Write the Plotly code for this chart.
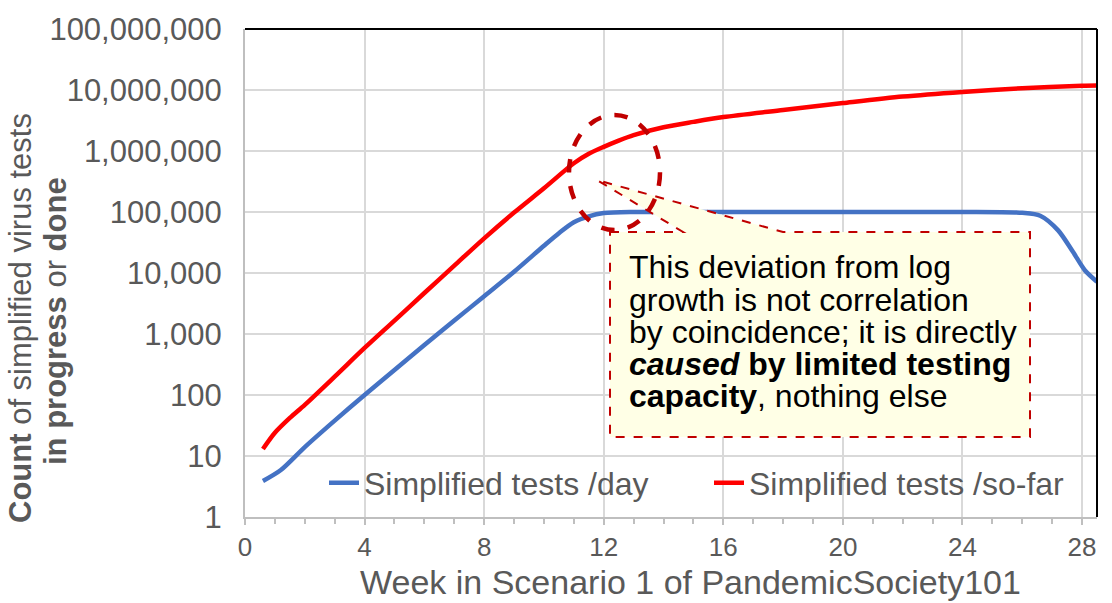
import plotly.graph_objects as go

# ---------------- data ----------------
weeks_day = [0.6, 1.2, 2.0, 3.0, 4.0, 5.0, 6.0, 7.0, 8.0, 9.0, 10.0, 10.5, 11.0, 11.5,
             12.0, 13.0, 14.0, 16.0, 18.0, 20.0, 22.0, 24.0, 26.0, 26.6, 27.2,
             27.7, 28.1, 28.5]
tests_day = [3.9, 5.9, 14, 38, 100, 257, 660, 1660, 4170, 10500, 28000, 45000, 68000, 85000,
             96000, 100000, 100000, 100000, 100000, 100000, 100000, 100000, 97000, 87000, 50000,
             22000, 11000, 7200]

weeks_sofar = [0.6, 1.0, 1.5, 2.0, 3.0, 4.0, 5.0, 6.0, 7.0, 8.0, 9.0, 10.0, 11.0, 11.5,
               12.0, 12.5, 13.0, 14.0, 15.0, 16.0, 18.0, 20.0, 22.0, 24.0, 26.0, 28.0, 28.5]
tests_sofar = [13, 24, 42, 69, 200, 590, 1660, 4700, 13200, 37000, 98000, 245000, 630000, 900000,
               1170000, 1480000, 1820000, 2450000, 3000000, 3600000, 4700000, 6100000, 7800000,
               9300000, 10700000, 11700000, 11800000]

y_tickvals = [1, 10, 100, 1000, 10000, 100000, 1000000, 10000000, 100000000]
y_ticktext = ["1", "10", "100", "1,000", "10,000", "100,000", "1,000,000", "10,000,000", "100,000,000"]
x_tickvals = [0, 4, 8, 12, 16, 20, 24, 28]

series_names = ["Simplified tests /day", "Simplified tests /so-far"]
note_lines = [
    "This deviation from log",
    "growth is not correlation",
    "by coincidence; it is directly",
    "<b><i>caused</i> by limited testing</b>",
    "<b>capacity</b>, nothing else",
]

# ---------------- layout geometry (pixels) ----------------
W, H = 1112, 603
L, R, T, B = 245, 1097, 29, 517
FONT = "Arial, Liberation Sans, Helvetica, sans-serif"
GRAY = "#595959"


def px(x):
    return (x - L) / (R - L)


def py(y):
    return (B - y) / (B - T)


fig = go.Figure()
fig.add_trace(go.Scatter(x=weeks_day, y=tests_day, mode="lines", name=series_names[0],
                         line=dict(color="#4472C4", width=4.5, shape="spline", smoothing=0.8)))
fig.add_trace(go.Scatter(x=weeks_sofar, y=tests_sofar, mode="lines", name=series_names[1],
                         line=dict(color="#FF0000", width=4.5, shape="spline", smoothing=0.8)))

fig.update_layout(
    width=W, height=H,
    margin=dict(l=L, r=W - R, t=T, b=H - B, pad=0, autoexpand=False),
    paper_bgcolor="white", plot_bgcolor="white",
    font=dict(family=FONT, size=30, color=GRAY),
    showlegend=True,
    legend=dict(orientation="h", x=px(324), y=py(483), xanchor="left", yanchor="middle",
                bgcolor="rgba(0,0,0,0)", font=dict(size=32, color=GRAY),
                entrywidth=340, entrywidthmode="pixels", tracegroupgap=0),
)

fig.update_xaxes(
    range=[0, 28.5], tickvals=x_tickvals, showgrid=True, gridcolor="#D9D9D9", gridwidth=2,
    showline=True, linecolor="#BFBFBF", linewidth=2, zeroline=False, automargin=False,
    ticks="outside", ticklen=6, tickcolor="#BFBFBF", tickwidth=1.5,
    minor=dict(dtick=1, tick0=0, ticks="outside", ticklen=5, tickcolor="#BFBFBF", showgrid=False),
    tickfont=dict(size=26, color=GRAY), ticklabelstandoff=0,
)
fig.update_yaxes(
    type="log", range=[0, 8], tickvals=y_tickvals, ticktext=y_ticktext,
    showgrid=True, gridcolor="#D9D9D9", gridwidth=2, automargin=False,
    showline=True, linecolor="#BFBFBF", linewidth=2, zeroline=False,
    ticks="", tickfont=dict(size=31, color=GRAY), ticklabelstandoff=15,
)

# top and right black border
fig.add_shape(type="line", xref="paper", yref="paper", x0=0, x1=1, y0=1, y1=1,
              line=dict(color="black", width=2))
fig.add_shape(type="line", xref="paper", yref="paper", x0=1, x1=1, y0=0, y1=1,
              line=dict(color="black", width=2))

# callout box with pointer
bx0, bx1, by0, by1 = 610, 1030, 232, 437
tipx, tipy = 597, 180
path = (f"M {px(bx0)},{py(by0)} L {px(683)},{py(by0)} L {px(tipx)},{py(tipy)} "
        f"L {px(783)},{py(by0)} L {px(bx1)},{py(by0)} L {px(bx1)},{py(by1)} "
        f"L {px(bx0)},{py(by1)} Z")
fig.add_shape(type="path", xref="paper", yref="paper", path=path,
              fillcolor="#FFFFE6", line=dict(color="#C00000", width=2, dash="dash"))

# dashed ellipse
fig.add_shape(type="circle", xref="paper", yref="paper",
              x0=px(569), x1=px(660), y0=py(230), y1=py(115),
              line=dict(color="#C00000", width=4.5, dash="dash"))

# callout text
line_y = [267, 300, 332, 364, 396]
for txt, yy in zip(note_lines, line_y):
    fig.add_annotation(text=txt, xref="paper", yref="paper", x=px(627), y=py(yy),
                       xanchor="left", yanchor="middle", showarrow=False,
                       font=dict(family=FONT, size=32, color="black"))

# axis titles
fig.add_annotation(text="Week in Scenario 1 of PandemicSociety101", xref="paper", yref="paper",
                   x=px(690), y=py(582), xanchor="center", yanchor="middle", showarrow=False,
                   font=dict(family=FONT, size=34, color=GRAY))
fig.add_annotation(text="<b>Count</b> of simplified virus tests", xref="paper", yref="paper",
                   x=px(20), y=py(318), xanchor="center", yanchor="middle", showarrow=False,
                   textangle=-90, font=dict(family=FONT, size=31, color=GRAY))
fig.add_annotation(text="<b>in progress</b> or <b>done</b>", xref="paper", yref="paper",
                   x=px(55), y=py(321), xanchor="center", yanchor="middle", showarrow=False,
                   textangle=-90, font=dict(family=FONT, size=31, color=GRAY))

fig.write_html("out.html", config={"displayModeBar": False},
               post_script="document.body.style.margin='0px';")
